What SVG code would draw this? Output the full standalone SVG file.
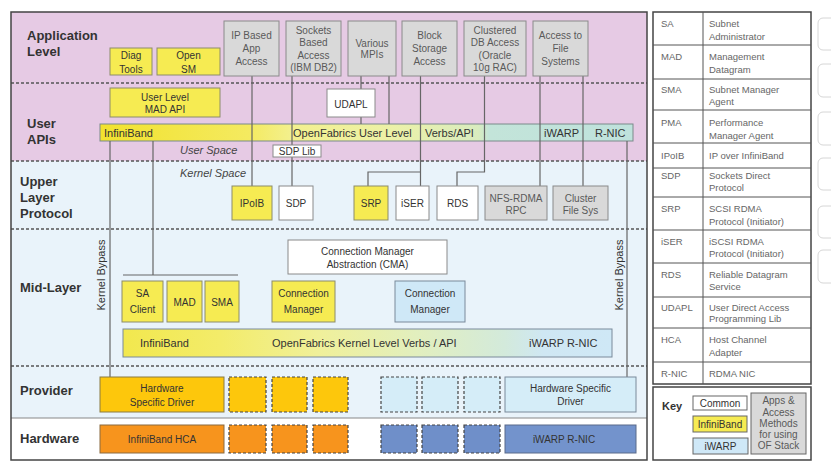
<svg xmlns="http://www.w3.org/2000/svg" width="831" height="475" viewBox="0 0 831 475">
<style>
.t{font-family:"Liberation Sans",Arial,sans-serif;font-size:10px;fill:#333;text-anchor:middle}
.tg{font-family:"Liberation Sans",Arial,sans-serif;font-size:10px;fill:#5a5a5a;text-anchor:middle}
.tb{font-family:"Liberation Sans",Arial,sans-serif;font-size:11px;fill:#333}
.lbl{font-family:"Liberation Sans",Arial,sans-serif;font-size:13px;font-weight:bold;fill:#333}
.it{font-family:"Liberation Sans",Arial,sans-serif;font-size:11px;font-style:italic;fill:#444}
.lg{font-family:"Liberation Sans",Arial,sans-serif;font-size:9.5px;fill:#666}
.yb{fill:#f6eb52;stroke:#8c8c6a;stroke-width:1}
.gb{fill:#d9d9d9;stroke:#8a8a8a;stroke-width:1}
.wb{fill:#fff;stroke:#8a8a8a;stroke-width:1}
.bb{fill:#cfe8f7;stroke:#7a8a9a;stroke-width:1}
.dy{fill:#fdc70c;stroke:#444;stroke-width:1.2;stroke-dasharray:3 2}
.do{fill:#f7941d;stroke:#444;stroke-width:1.2;stroke-dasharray:3 2}
.dl{fill:#d5edf8;stroke:#444;stroke-width:1.2;stroke-dasharray:3 2}
.dd{fill:#6f8fc9;stroke:#444;stroke-width:1.2;stroke-dasharray:3 2}
.conn{stroke:#666;stroke-width:1.2;fill:none}
.dash{stroke:#555;stroke-width:1.5;stroke-dasharray:3 2;fill:none}
.grid{stroke:#555;stroke-width:1;fill:none}
</style>
<defs>
<linearGradient id="gU" x1="0" y1="0" x2="1" y2="0">
<stop offset="0" stop-color="#f2e22e"/>
<stop offset="0.28" stop-color="#f4ea60"/>
<stop offset="0.36" stop-color="#f3f08e"/>
<stop offset="0.55" stop-color="#ecf1a8"/>
<stop offset="0.71" stop-color="#d9ecbf"/>
<stop offset="0.73" stop-color="#c3e4d9"/>
<stop offset="1" stop-color="#bfe2dc"/>
</linearGradient>
<linearGradient id="gK" x1="0" y1="0" x2="1" y2="0">
<stop offset="0" stop-color="#f2e84e"/>
<stop offset="0.2" stop-color="#f3ec6a"/>
<stop offset="0.4" stop-color="#f0f09a"/>
<stop offset="0.6" stop-color="#e2efbe"/>
<stop offset="0.78" stop-color="#d3eadb"/>
<stop offset="0.86" stop-color="#cfe7f3"/>
<stop offset="1" stop-color="#cfe8f6"/>
</linearGradient>
</defs>
<rect x="0" y="0" width="831" height="475" fill="#fff"/>

<g id="layers">
<rect x="11" y="12" width="636" height="149" fill="#e6cae4"/>
<rect x="11" y="161" width="636" height="257" fill="#e9f3fa"/>
<rect x="11" y="418" width="636" height="42" fill="#fff"/>
<path class="dash" d="M11,83H647M11,161H647M11,229H647M11,366H647"/>
<path d="M11,418H647" stroke="#888" stroke-width="1.2"/>
<rect x="11" y="12" width="636" height="448" fill="none" stroke="#444" stroke-width="1.5"/>
<text class="lbl" x="27" y="40">Application</text>
<text class="lbl" x="27" y="56">Level</text>
<text class="lbl" x="27" y="128">User</text>
<text class="lbl" x="27" y="144">APIs</text>
<text class="lbl" x="20" y="186">Upper</text>
<text class="lbl" x="20" y="202">Layer</text>
<text class="lbl" x="20" y="218">Protocol</text>
<text class="lbl" x="20" y="292">Mid-Layer</text>
<text class="lbl" x="20" y="395">Provider</text>
<text class="lbl" x="20" y="443">Hardware</text>
<text class="it" x="180" y="154">User Space</text>
<text class="it" x="180" y="177">Kernel Space</text>
<text class="tb" transform="translate(105,275) rotate(-90)" text-anchor="middle" fill="#444">Kernel Bypass</text>
<text class="tb" transform="translate(623,275) rotate(-90)" text-anchor="middle" fill="#444">Kernel Bypass</text>
</g>

<g id="user-verbs">
<rect x="100" y="124" width="533" height="17" fill="url(#gU)" stroke="#7a8a8a"/>
<text class="tb" x="104" y="137">InfiniBand</text>
<text class="tb" x="293" y="137">OpenFabrics User Level</text>
<text class="tb" x="425" y="137">Verbs/API</text>
<text class="tb" x="544" y="137">iWARP</text>
<text class="tb" x="595" y="137">R-NIC</text>
</g>
<g id="kernel-verbs">
<rect x="123" y="329" width="489" height="28" fill="url(#gK)" stroke="#7a8a9a"/>
<text class="tb" x="140" y="347">InfiniBand</text>
<text class="tb" x="272" y="347">OpenFabrics Kernel Level Verbs / API</text>
<text class="tb" x="529" y="347">iWARP R-NIC</text>
</g>

<g id="connectors">
<path class="conn" d="M252,76V186"/>
<path class="conn" d="M292,76V186"/>
<path class="conn" d="M361,76V89M361,117V124"/>
<path class="conn" d="M389,76V124"/>
<path class="conn" d="M420.5,76V186M420.5,172H368V186"/>
<path class="conn" d="M484.5,76V172H457V186"/>
<path class="conn" d="M540,76V186"/>
<path class="conn" d="M583,76V186"/>
<path class="conn" d="M110,141V377"/>
<path class="conn" d="M153,141V275M123,275H238"/>
<path class="conn" d="M627,141V377"/>
</g>

<g id="diag-tools"><rect class="yb" x="110" y="48" width="42" height="27"/><text class="t" x="131" y="58.5">Diag</text><text class="t" x="131" y="72.5">Tools</text></g>
<g id="open-sm"><rect class="yb" x="157" y="48" width="63" height="27"/><text class="t" x="188.5" y="58.5">Open</text><text class="t" x="188.5" y="72.5">SM</text></g>
<g id="ip-based"><rect class="gb" x="224" y="21" width="55" height="55"/><text class="tg" x="251.5" y="39">IP Based</text><text class="tg" x="251.5" y="52">App</text><text class="tg" x="251.5" y="65">Access</text></g>
<g id="sockets-based"><rect class="gb" x="286" y="21" width="55" height="55"/><text class="tg" x="313.5" y="33.5">Sockets</text><text class="tg" x="313.5" y="46">Based</text><text class="tg" x="313.5" y="58.5">Access</text><text class="tg" x="313.5" y="71">(IBM DB2)</text></g>
<g id="various-mpis"><rect class="gb" x="348" y="21" width="48" height="55"/><text class="tg" x="372" y="46.5">Various</text><text class="tg" x="372" y="57.5">MPIs</text></g>
<g id="block-storage"><rect class="gb" x="402" y="21" width="55" height="55"/><text class="tg" x="429.5" y="39">Block</text><text class="tg" x="429.5" y="52">Storage</text><text class="tg" x="429.5" y="65">Access</text></g>
<g id="clustered-db"><rect class="gb" x="464" y="21" width="62" height="55"/><text class="tg" x="495" y="33.5">Clustered</text><text class="tg" x="495" y="46">DB Access</text><text class="tg" x="495" y="58.5">(Oracle</text><text class="tg" x="495" y="71">10g RAC)</text></g>
<g id="file-systems"><rect class="gb" x="533" y="21" width="55" height="55"/><text class="tg" x="560.5" y="39">Access to</text><text class="tg" x="560.5" y="52">File</text><text class="tg" x="560.5" y="65">Systems</text></g>

<g id="mad-api"><rect class="yb" x="110" y="88" width="110" height="29"/><text class="t" x="165" y="100.5" font-size="11">User Level</text><text class="t" x="165" y="113" font-size="11">MAD API</text></g>
<g id="udapl"><rect class="wb" x="327" y="89" width="48" height="28"/><text class="t" x="351" y="107.5" font-size="11">UDAPL</text></g>
<g id="sdp-lib"><rect class="wb" x="273" y="145" width="48" height="12"/><text class="t" x="297" y="154.5" font-size="9.5">SDP Lib</text></g>

<g id="ipoib"><rect class="yb" x="232" y="186" width="40" height="34"/><text class="t" x="252" y="207" font-size="11">IPoIB</text></g>
<g id="sdp"><rect class="wb" x="279" y="186" width="34" height="34"/><text class="t" x="296" y="207" font-size="11">SDP</text></g>
<g id="srp"><rect class="yb" x="354" y="186" width="34" height="34"/><text class="t" x="371" y="207" font-size="11">SRP</text></g>
<g id="iser"><rect class="wb" x="396" y="186" width="33" height="34"/><text class="t" x="412.5" y="207" font-size="11">iSER</text></g>
<g id="rds"><rect class="wb" x="437" y="186" width="41" height="34"/><text class="t" x="457.5" y="207" font-size="11">RDS</text></g>
<g id="nfs-rdma"><rect class="gb" x="485" y="186" width="62" height="34"/><text class="tg" x="516" y="201.5" font-size="9.5">NFS-RDMA</text><text class="tg" x="516" y="213.5" font-size="9.5">RPC</text></g>
<g id="cluster-fs"><rect class="gb" x="553" y="186" width="55" height="34"/><text class="tg" x="580.5" y="201.5">Cluster</text><text class="tg" x="580.5" y="213.5">File Sys</text></g>

<g id="cma"><rect class="wb" x="288" y="240" width="159" height="34"/><text class="t" x="367.5" y="255" font-size="10.5">Connection Manager</text><text class="t" x="367.5" y="268" font-size="10.5">Abstraction (CMA)</text></g>
<g id="sa-client"><rect class="yb" x="122" y="281" width="41" height="41"/><text class="t" x="142.5" y="297" font-size="10.5">SA</text><text class="t" x="142.5" y="313" font-size="10.5">Client</text></g>
<g id="mad"><rect class="yb" x="167" y="281" width="35" height="41"/><text class="t" x="184.5" y="306" font-size="10.5">MAD</text></g>
<g id="sma"><rect class="yb" x="205" y="281" width="34" height="41"/><text class="t" x="222" y="306" font-size="10.5">SMA</text></g>
<g id="cm-ib"><rect class="yb" x="272" y="281" width="63" height="41"/><text class="t" x="303.5" y="297" font-size="10.5">Connection</text><text class="t" x="303.5" y="313" font-size="10.5">Manager</text></g>
<g id="cm-iwarp"><rect class="bb" x="395" y="281" width="70" height="41"/><text class="t" x="430" y="297" font-size="10.5">Connection</text><text class="t" x="430" y="313" font-size="10.5">Manager</text></g>

<g id="hsd-ib"><rect x="100" y="377" width="124" height="35" fill="#fdc70c" stroke="#8a7a40"/><text class="t" x="162" y="391.5" fill="#4a4020">Hardware</text><text class="t" x="162" y="405.5" fill="#4a4020">Specific Driver</text></g>
<g id="prov-slots-ib"><rect class="dy" x="229" y="377" width="37" height="35"/><rect class="dy" x="272" y="377" width="35" height="35"/><rect class="dy" x="313" y="377" width="35" height="35"/></g>
<g id="prov-slots-iwarp"><rect class="dl" x="381" y="377" width="36" height="35"/><rect class="dl" x="422" y="377" width="36" height="35"/><rect class="dl" x="464" y="377" width="36" height="35"/></g>
<g id="hsd-iwarp"><rect x="505" y="377" width="131" height="35" fill="#d5edf8" stroke="#7a8a9a"/><text class="t" x="570.5" y="391.5" fill="#444">Hardware Specific</text><text class="t" x="570.5" y="404.5" fill="#444">Driver</text></g>

<g id="hca"><rect x="100" y="425" width="124" height="28" fill="#f7941d" stroke="#8a6a40"/><text class="t" x="162" y="443" fill="#fff">InfiniBand HCA</text></g>
<g id="hw-slots-ib"><rect class="do" x="229" y="425" width="37" height="28"/><rect class="do" x="272" y="425" width="35" height="28"/><rect class="do" x="313" y="425" width="35" height="28"/></g>
<g id="hw-slots-iwarp"><rect class="dd" x="381" y="425" width="36" height="28"/><rect class="dd" x="422" y="425" width="36" height="28"/><rect class="dd" x="464" y="425" width="36" height="28"/></g>
<g id="rnic"><rect x="505" y="425" width="131" height="28" fill="#7393cc" stroke="#5a6a8a"/><text class="t" x="564" y="443" fill="#fff">iWARP R-NIC</text></g>

<g id="glossary">
<rect x="653" y="12" width="158" height="372" fill="#fff" stroke="#444" stroke-width="1.5"/>
<path class="grid" d="M703,12V384M653,45H811M653,79H811M653,110H811M653,143H811M653,168H811M653,197H811M653,230H811M653,263H811M653,297H811M653,328H811M653,362H811"/>
<text class="lg" x="661" y="26.5">SA</text><text class="lg" x="709" y="26.5">Subnet</text><text class="lg" x="709" y="39.5">Administrator</text>
<text class="lg" x="661" y="59.5">MAD</text><text class="lg" x="709" y="59.5">Management</text><text class="lg" x="709" y="72.5">Datagram</text>
<text class="lg" x="661" y="93">SMA</text><text class="lg" x="709" y="93">Subnet Manager</text><text class="lg" x="709" y="105">Agent</text>
<text class="lg" x="661" y="126">PMA</text><text class="lg" x="709" y="126">Performance</text><text class="lg" x="709" y="139">Manager Agent</text>
<text class="lg" x="661" y="159">IPoIB</text><text class="lg" x="709" y="159">IP over InfiniBand</text>
<text class="lg" x="661" y="179">SDP</text><text class="lg" x="709" y="179">Sockets Direct</text><text class="lg" x="709" y="191">Protocol</text>
<text class="lg" x="661" y="212">SRP</text><text class="lg" x="709" y="212">SCSI RDMA</text><text class="lg" x="709" y="225">Protocol (Initiator)</text>
<text class="lg" x="661" y="245">iSER</text><text class="lg" x="709" y="245">iSCSI RDMA</text><text class="lg" x="709" y="257">Protocol (Initiator)</text>
<text class="lg" x="661" y="278">RDS</text><text class="lg" x="709" y="278">Reliable Datagram</text><text class="lg" x="709" y="290">Service</text>
<text class="lg" x="661" y="311">UDAPL</text><text class="lg" x="709" y="311">User Direct Access</text><text class="lg" x="709" y="322">Programming Lib</text>
<text class="lg" x="661" y="343">HCA</text><text class="lg" x="709" y="343">Host Channel</text><text class="lg" x="709" y="356">Adapter</text>
<text class="lg" x="661" y="377">R-NIC</text><text class="lg" x="709" y="377">RDMA NIC</text>
</g>

<g id="key">
<rect x="653" y="387" width="158" height="73" fill="#fff" stroke="#444" stroke-width="1.5"/>
<text class="tb" x="662" y="410" font-weight="bold">Key</text>
<rect x="693" y="396" width="54" height="14" fill="#fff" stroke="#666"/>
<text class="t" x="720" y="407" font-size="11">Common</text>
<rect x="693" y="416" width="54" height="16" fill="#f6eb52" stroke="#666"/>
<text class="t" x="720" y="428" font-size="11">InfiniBand</text>
<rect x="693" y="438" width="55" height="16" fill="#cfe8f7" stroke="#666"/>
<text class="t" x="720.5" y="450" font-size="11">iWARP</text>
<rect x="751" y="393" width="55" height="61" fill="#d9d9d9" stroke="#666"/>
<text class="tg" x="778.5" y="404" font-size="8">Apps &amp;</text>
<text class="tg" x="778.5" y="415.5" font-size="8">Access</text>
<text class="tg" x="778.5" y="427" font-size="8">Methods</text>
<text class="tg" x="778.5" y="438" font-size="8">for using</text>
<text class="tg" x="778.5" y="449" font-size="8">OF Stack</text>
</g>

<g id="side-buttons" fill="#fff" stroke="#d6d6d6">
<rect x="818" y="18" width="24" height="32" rx="5"/>
<rect x="818" y="64" width="24" height="33" rx="5"/>
<rect x="818" y="112" width="24" height="33" rx="5"/>
<rect x="818" y="158" width="24" height="32" rx="5"/>
<rect x="818" y="206" width="24" height="32" rx="5"/>
<rect x="818" y="250" width="24" height="33" rx="5"/>
</g>
</svg>
